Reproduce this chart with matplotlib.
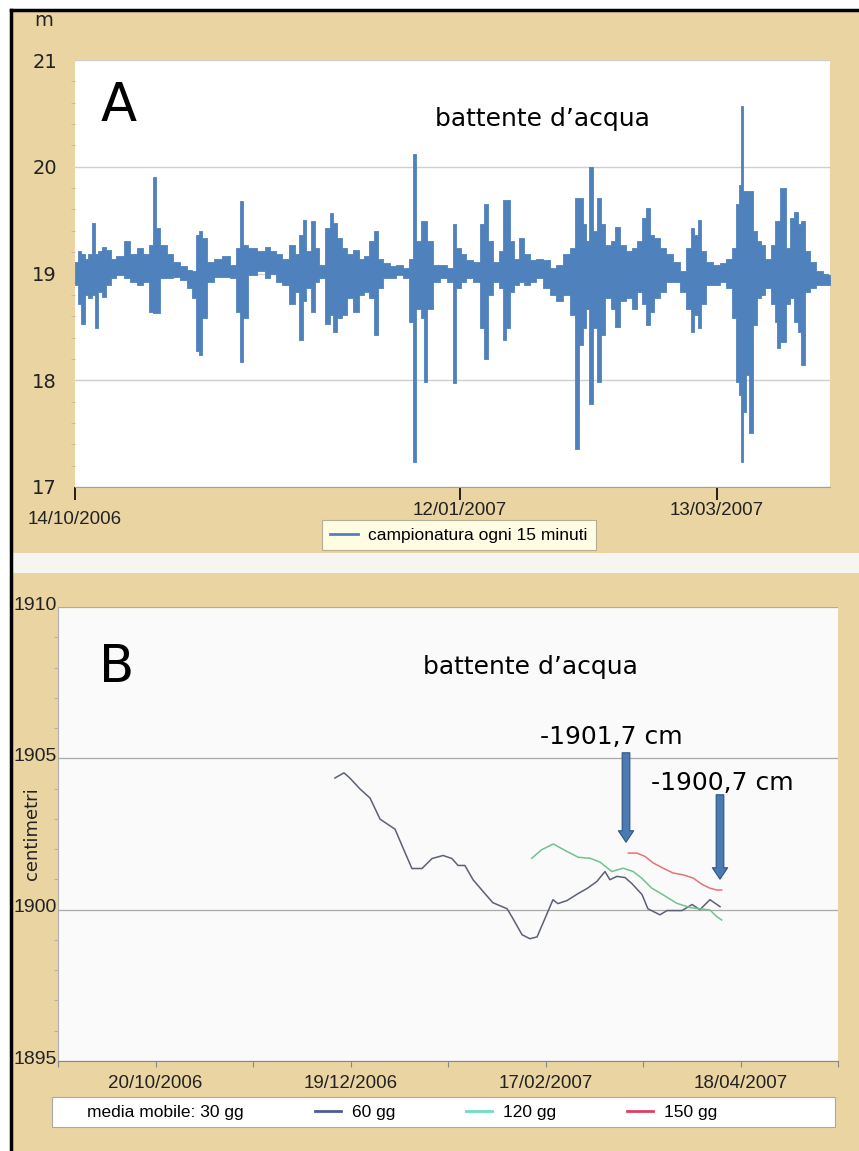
import pandas as pd
import matplotlib as mpl
mpl.use('Agg')
import matplotlib.pyplot as plt
from matplotlib.lines import Line2D
from matplotlib.patches import Rectangle
from matplotlib.transforms import ScaledTranslation

W, H = 859, 1151
NARROW = 'Liberation Sans'

# panel A: battente d'acqua (m), 15-min samples read as high/low envelope
# days since 14/10/2006
a_start = pd.Timestamp('2006-10-14')
a_day = [0.0, 1.2, 1.8, 2.7, 3.5, 4.5, 4.75, 5.8, 6.6, 7.8, 8.9, 10.5, 12.2, 13.6, 15.2,
         16.7, 17.9, 18.5, 19.2, 20.6, 22.2, 23.8, 25.3, 26.9, 28.0, 28.8, 29.4, 30.0,
         31.5, 33.5, 35.4, 37.0, 38.2, 38.8, 39.7, 41.3, 44.0, 44.8, 46.3, 47.9, 49.1,
         51.0, 51.8, 53.0, 53.5, 54.5, 55.7, 56.5, 57.6, 59.2, 59.8, 60.7, 61.9, 63.1,
         64.3, 65.8, 67.0, 68.2, 69.3, 70.5, 71.3, 72.8, 74.4, 75.9, 77.5, 78.7, 79.2,
         80.2, 81.4, 81.9, 82.9, 84.5, 86.1, 88.0, 88.7, 89.6, 90.7, 92.3, 93.9, 95.4,
         96.0, 97.0, 98.5, 99.7, 100.5, 101.2, 102.0, 103.2, 104.4, 105.5, 107.1, 108.6,
         110.2, 111.8, 113.3, 114.9, 116.4, 117.4, 118.4, 119.2, 119.9, 120.6, 121.5,
         122.7, 123.4, 124.6, 125.8, 126.8, 128.1, 129.7, 130.8, 132.0, 133.2, 134.0,
         134.7, 135.9, 137.5, 139.0, 140.6, 142.1, 143.7, 144.3, 145.3, 145.9, 146.8,
         148.4, 149.9, 151.5, 153.0, 154.2, 155.0, 155.4, 155.8, 156.5, 157.3, 157.9,
         158.9, 160.0, 160.8, 162.0, 163.2, 163.9, 164.3, 165.5, 166.7, 167.8, 168.6,
         169.4, 170.2, 171.3, 172.5, 174.1, 175.6, 176.4]
a_hi = [19.11, 19.21, 19.18, 19.14, 19.18, 19.47, 19.18, 19.21, 19.25, 19.22, 19.14, 19.16,
        19.30, 19.18, 19.24, 19.18, 19.27, 19.90, 19.43, 19.27, 19.18, 19.11, 19.07, 19.03,
        19.02, 19.36, 19.40, 19.33, 19.11, 19.14, 19.16, 19.08, 19.24, 19.68, 19.27, 19.24,
        19.21, 19.25, 19.21, 19.18, 19.14, 19.27, 19.18, 19.36, 19.50, 19.21, 19.49, 19.24,
        19.08, 19.43, 19.57, 19.47, 19.33, 19.24, 19.18, 19.22, 19.14, 19.16, 19.30, 19.40,
        19.14, 19.10, 19.07, 19.08, 19.05, 19.14, 20.12, 19.30, 19.49, 19.49, 19.30, 19.08,
        19.08, 19.05, 19.46, 19.24, 19.18, 19.13, 19.11, 19.46, 19.65, 19.30, 19.11, 19.21,
        19.69, 19.69, 19.30, 19.14, 19.33, 19.18, 19.13, 19.14, 19.13, 19.05, 19.08, 19.18,
        19.24, 19.71, 19.71, 19.46, 19.30, 20.00, 19.40, 19.71, 19.46, 19.27, 19.30, 19.44,
        19.27, 19.21, 19.24, 19.30, 19.52, 19.61, 19.36, 19.33, 19.24, 19.18, 19.11, 19.02,
        19.24, 19.43, 19.36, 19.50, 19.21, 19.11, 19.08, 19.10, 19.14, 19.24, 19.65, 19.83,
        20.57, 19.77, 19.77, 19.77, 19.40, 19.30, 19.27, 19.14, 19.27, 19.49, 19.49, 19.80,
        19.24, 19.52, 19.58, 19.46, 19.49, 19.21, 19.11, 19.02, 19.00, 18.99]
a_lo = [18.89, 18.71, 18.53, 18.80, 18.77, 18.80, 18.49, 18.83, 18.78, 18.89, 18.96, 18.99,
        18.96, 18.92, 18.89, 18.92, 18.64, 18.63, 18.63, 18.96, 18.96, 18.97, 18.94, 18.86,
        18.77, 18.27, 18.24, 18.58, 18.92, 18.97, 18.97, 18.96, 18.64, 18.17, 18.58, 18.99,
        19.02, 18.96, 19.00, 18.92, 18.89, 18.71, 18.83, 18.38, 18.74, 18.86, 18.64, 18.92,
        18.96, 18.53, 18.61, 18.45, 18.58, 18.61, 18.77, 18.64, 18.80, 18.83, 18.77, 18.42,
        18.86, 18.96, 18.96, 18.99, 18.96, 18.55, 17.23, 18.67, 18.58, 17.98, 18.67, 18.92,
        18.96, 18.92, 17.97, 18.86, 18.92, 18.96, 18.92, 18.49, 18.20, 18.80, 18.92, 18.86,
        18.38, 18.49, 18.83, 18.89, 18.92, 18.89, 18.92, 18.96, 18.86, 18.80, 18.74, 18.80,
        18.61, 17.36, 18.33, 18.49, 18.67, 17.78, 18.49, 17.98, 18.42, 18.77, 18.67, 18.50,
        18.74, 18.77, 18.67, 18.83, 18.71, 18.52, 18.64, 18.77, 18.83, 18.92, 18.92, 18.83,
        18.67, 18.45, 18.61, 18.49, 18.71, 18.89, 18.89, 18.92, 18.86, 18.58, 17.98, 17.86,
        17.23, 17.70, 18.05, 17.51, 18.52, 18.77, 18.80, 18.86, 18.71, 18.55, 18.30, 18.36,
        18.71, 18.77, 18.55, 18.45, 18.14, 18.83, 18.86, 18.89, 18.89, 18.89]
a_ticks = ['2006-10-14', '2007-01-12', '2007-03-13']
a_ticklabels = ['14/10/2006', '12/01/2007', '13/03/2007']
a_yticks = [17, 18, 19, 20, 21]

# panel B: moving averages (cm), days since 20/09/2006
b_start = pd.Timestamp('2006-09-20')
day_60 = [85.2, 88.0, 89.8, 92.9, 96.0, 99.1, 103.7, 106.2, 108.9, 112.0, 115.1, 118.5,
          121.2, 123.1, 125.2, 127.7, 130.8, 133.8, 138.2, 140.0, 142.8, 145.2, 147.4,
          149.8, 152.3, 153.8, 156.6, 160.0, 162.8, 165.8, 168.3, 169.8, 172.0, 174.5,
          176.6, 179.7, 181.5, 185.2, 187.4, 192.0, 195.1, 197.5, 200.6, 203.7]
val_60 = [1904.35, 1904.52, 1904.35, 1903.99, 1903.69, 1902.99, 1902.66, 1902.03, 1901.36,
          1901.36, 1901.69, 1901.79, 1901.69, 1901.46, 1901.46, 1900.99, 1900.60, 1900.23,
          1900.03, 1899.70, 1899.17, 1899.04, 1899.10, 1899.70, 1900.33, 1900.20, 1900.30,
          1900.53, 1900.70, 1900.93, 1901.26, 1900.99, 1901.10, 1901.06, 1900.86, 1900.50,
          1900.03, 1899.83, 1899.97, 1899.97, 1900.17, 1900.00, 1900.33, 1900.10]
day_120 = [145.8, 148.8, 152.4, 156.5, 160.1, 163.7, 166.8, 170.4, 173.9, 177.0, 179.6,
           182.7, 186.2, 190.4, 194.5, 198.1, 200.6, 202.7, 204.2]
val_120 = [1901.70, 1901.98, 1902.17, 1901.93, 1901.73, 1901.70, 1901.57, 1901.26, 1901.37,
           1901.26, 1901.04, 1900.71, 1900.49, 1900.21, 1900.07, 1900.02, 1899.99, 1899.77,
           1899.66]
day_150 = [175.5, 178.1, 180.6, 183.2, 186.2, 189.3, 192.4, 195.5, 198.1, 200.6, 202.7, 204.2]
val_150 = [1901.87, 1901.87, 1901.76, 1901.54, 1901.37, 1901.21, 1901.15, 1901.04, 1900.84,
           1900.71, 1900.65, 1900.65]
b_ticks = ['2006-09-20', '2006-10-20', '2006-11-19', '2006-12-19', '2007-01-18',
           '2007-02-17', '2007-03-19', '2007-04-18', '2007-05-18']
b_ticklabels = ['', '20/10/2006', '', '19/12/2006', '', '17/02/2007', '', '18/04/2007', '']
b_yticks = [1895, 1900, 1905, 1910]
legend_b = ['media mobile: 30 gg', '60 gg', '120 gg', '150 gg']
notes = ['-1901,7 cm', '-1900,7 cm']


def fx(x):
    return x / W


def fy(y):
    return 1 - y / H


fig = plt.figure(figsize=(W / 100, H / 100), dpi=100, facecolor='white')
fig.patches.append(Rectangle((fx(12), 0), 1, fy(11), transform=fig.transFigure,
                             facecolor='#EAD4A2', edgecolor='none', zorder=-5))
fig.patches.append(Rectangle((fx(12), fy(573)), 1, 20 / H, transform=fig.transFigure,
                             facecolor='#F7F5EF', edgecolor='none', zorder=-4))
fig.add_artist(Line2D([fx(11), fx(11)], [0, fy(10)], color='black', lw=2.5))
fig.add_artist(Line2D([fx(11), 1], [fy(10), fy(10)], color='black', lw=2.5))

# ---------- panel A ----------
axA = fig.add_axes([fx(75), fy(487), 755 / W, 427 / H])
axA.set_facecolor('white')
xa = a_start + pd.to_timedelta(a_day, unit='D')
axA.fill_between(xa, a_lo, a_hi, step='mid', color='#4F81BD', lw=0.6, zorder=3)
axA.set_xlim(a_start, a_start + pd.Timedelta(days=176.5))
axA.set_ylim(17, 21)
axA.set_yticks(a_yticks)
axA.set_yticklabels([str(v) for v in a_yticks], fontsize=14, color='#222222')
axA.set_yticks([17 + 0.2 * i for i in range(21)], minor=True)
axA.tick_params(axis='y', which='major', length=0, pad=13)
axA.tick_params(axis='y', which='minor', length=3, color='#C9B98F')
axA.grid(axis='y', which='major', color='#CFCFCF', lw=1)
axA.set_axisbelow(True)
axA.set_xticks(pd.to_datetime(a_ticks))
axA.set_xticklabels(a_ticklabels, fontsize=13.5, family=NARROW, color='#222222')
axA.tick_params(axis='x', length=9, width=1.2, color='black', pad=2)
axA.xaxis.get_major_ticks()[0].set_pad(8)
for s in ['top', 'right', 'left']:
    axA.spines[s].set_visible(False)
axA.spines['bottom'].set_color('#A0A0A0')
axA.spines['bottom'].set_linewidth(0.8)

fig.text(fx(44), fy(21), 'm', fontsize=14, color='#222222', ha='center', va='center')
fig.text(fx(101), fy(80), 'A', fontsize=38, ha='left', va='top')
fig.text(fx(542), fy(119), 'battente d\u2019acqua', fontsize=18, ha='center', va='center')

legA = fig.legend(handles=[Line2D([], [], color='#4F81BD', lw=2)],
                  labels=['campionatura ogni 15 minuti'], loc='center',
                  bbox_to_anchor=(fx(459), fy(535)), prop={'family': NARROW, 'size': 12.5},
                  handlelength=1.6, handletextpad=0.6, borderpad=0.45, fancybox=False,
                  framealpha=1, facecolor='#FFFCE4', edgecolor='#B5AE96')
legA.get_frame().set_linewidth(0.8)

# ---------- panel B ----------
axB = fig.add_axes([fx(58), fy(1061), 780 / W, 454 / H])
axB.set_facecolor('#FAFAFA')
axB.plot(b_start + pd.to_timedelta(day_60, unit='D'), val_60, color='#5B6075', lw=1.1, zorder=3)
axB.plot(b_start + pd.to_timedelta(day_120, unit='D'), val_120, color='#72C28F', lw=1.1, zorder=3)
axB.plot(b_start + pd.to_timedelta(day_150, unit='D'), val_150, color='#E57373', lw=1.1, zorder=3)
axB.set_xlim(pd.Timestamp(b_ticks[0]), pd.Timestamp(b_ticks[-1]))
axB.set_ylim(1895, 1910)
axB.set_yticks(b_yticks)
axB.set_yticklabels([str(v) for v in b_yticks], fontsize=14, family=NARROW, color='#222222')
axB.set_yticks(range(1895, 1911), minor=True)
axB.tick_params(axis='y', which='major', length=0, pad=1)
axB.tick_params(axis='y', which='minor', length=3, color='#A8A8A8')
lift = ScaledTranslation(0, 4 / 100, fig.dpi_scale_trans)
for lab in axB.get_yticklabels():
    lab.set_transform(lab.get_transform() + lift)
axB.grid(axis='y', which='major', color='#AAAAAA', lw=0.9)
axB.set_axisbelow(True)
axB.set_xticks(pd.to_datetime(b_ticks))
axB.set_xticklabels(b_ticklabels, fontsize=13.5, family=NARROW, color='#222222')
axB.tick_params(axis='x', length=4, color='#888888', pad=6)
for s in ['top', 'right']:
    axB.spines[s].set_visible(False)
axB.spines['bottom'].set_color('#888888')
axB.spines['left'].set_color('#B0B0B0')
axB.set_ylabel('centimetri', fontsize=13, color='#222222')
axB.yaxis.set_label_coords(-0.022, 0.5)

fig.text(fx(99), fy(643), 'B', fontsize=37, ha='left', va='top')
fig.text(fx(530), fy(667), 'battente d\u2019acqua', fontsize=18, ha='center', va='center')
fig.text(fx(611), fy(737), notes[0], fontsize=18, ha='center', va='center')
fig.text(fx(722), fy(783), notes[1], fontsize=18, ha='center', va='center')
arrow = dict(arrowstyle='simple,head_length=0.75,head_width=1.0,tail_width=0.5',
             mutation_scale=11, facecolor='#4B79B2', edgecolor='#2E5684', lw=0.8)
axB.annotate('', xy=(626, H - 845), xytext=(626, H - 750), xycoords='figure pixels',
             textcoords='figure pixels', arrowprops=arrow)
axB.annotate('', xy=(720, H - 882), xytext=(720, H - 792), xycoords='figure pixels',
             textcoords='figure pixels', arrowprops=arrow)

fig.patches.append(Rectangle((fx(52), fy(1127)), 783 / W, 30 / H, transform=fig.transFigure,
                             facecolor='white', edgecolor='#A8A8A8', lw=0.8, zorder=1))
hB = [Line2D([], [], color='none'), Line2D([], [], color='#4E5A9C', lw=2),
      Line2D([], [], color='#6FDDBE', lw=2), Line2D([], [], color='#E03E66', lw=2)]
legB = fig.legend(handles=hB, labels=legend_b, loc='center left', ncol=4,
                  bbox_to_anchor=(fx(51), fy(1112)), prop={'family': NARROW, 'size': 12.5},
                  frameon=False, handlelength=1.5, handletextpad=0.6, columnspacing=4.1,
                  borderpad=0, borderaxespad=0)

fig.savefig('out.png', dpi=100, facecolor=fig.get_facecolor())
